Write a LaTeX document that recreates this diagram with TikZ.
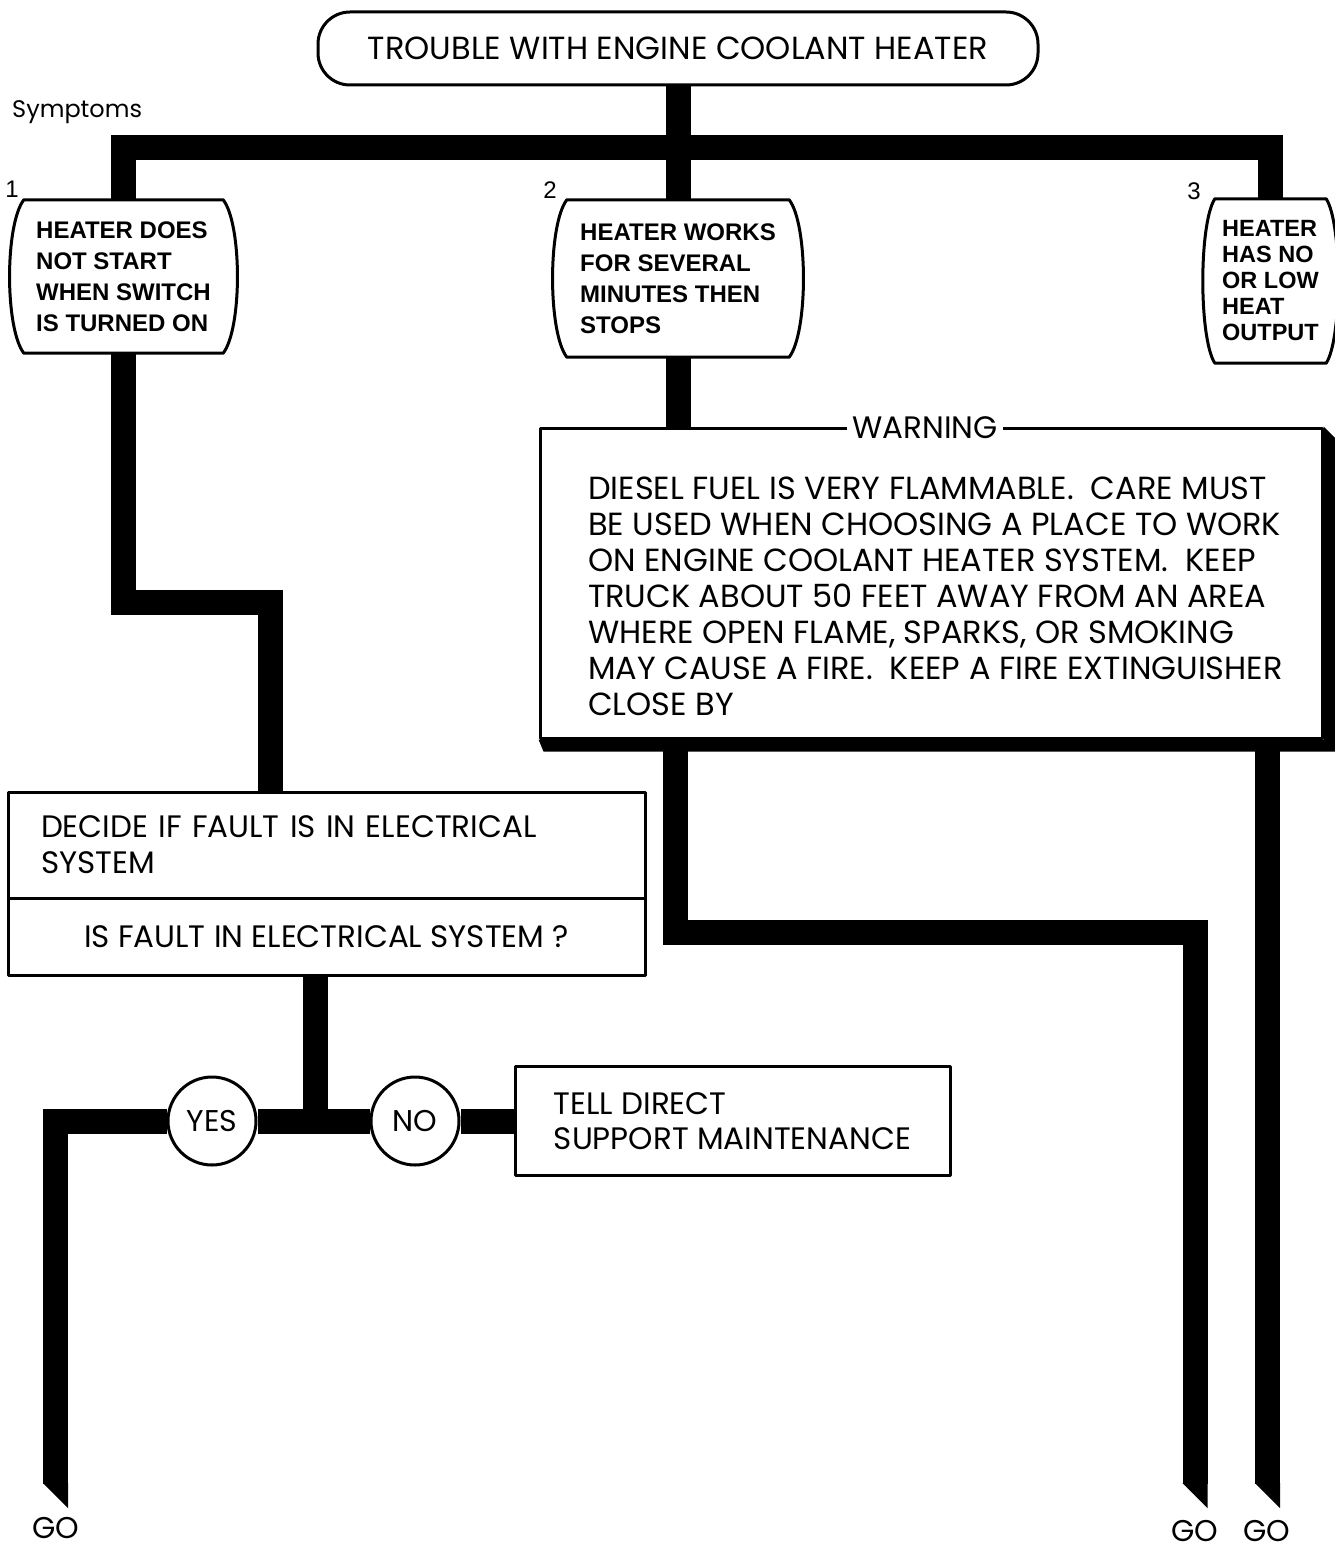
\documentclass[tikz,border=0pt]{standalone}
\usepackage{fontspec}
\setmainfont{Poppins}
\newfontfamily\helvfont{Liberation Sans}

% symptom box with bulged sides
\newcommand{\symbarrel}[2]{%
  \draw[boxline] (#1.north west) -- (#1.north east)
    .. controls +(#2,25) and +(#2,-25) .. (#1.south east)
    -- (#1.south west)
    .. controls +(-#2,-25) and +(-#2,25) .. (#1.north west) -- cycle;}

\begin{document}
\begin{tikzpicture}[x=1pt,y=-1pt,
  flow/.style={line width=25pt},
  boxline/.style={line width=3pt,line join=round},
  plainbox/.style={draw,boxline,inner sep=0pt},
  symbox/.style={inner sep=0pt,align=left,font=\helvfont\bfseries\fontsize{24}{31}\selectfont},
  numlabel/.style={inner sep=0pt,font=\helvfont\fontsize{24}{28}\selectfont},
  boxtext/.style={font=\fontsize{31}{36}\selectfont},
  answer/.style={circle,draw,boxline,fill=white,minimum size=88pt,inner sep=0pt,font=\fontsize{30}{32}\selectfont},
  golabel/.style={inner sep=0pt,font=\fontsize{30}{32}\selectfont}]
  \useasboundingbox (0,0) rectangle (1334,1549);

  \node[plainbox,rounded corners=32pt,minimum width=720pt,minimum height=73pt,font=\fontsize{32}{40}\selectfont] (title) at (678,48.5) {TROUBLE WITH ENGINE COOLANT HEATER};
  \node[anchor=base west,inner sep=0pt,font=\fontsize{24}{28}\selectfont] (symptoms) at (12,118) {Symptoms};

  \node[symbox,minimum width=199pt,minimum height=153pt] (s1) at (123.5,276.5) {HEATER DOES\\NOT START\\WHEN SWITCH\\IS TURNED ON};
  \node[symbox,minimum width=222pt,minimum height=157pt] (s2) at (678,278.5) {HEATER WORKS\\FOR SEVERAL\\MINUTES THEN\\STOPS};
  \node[symbox,minimum width=111pt,minimum height=164pt,font=\helvfont\bfseries\fontsize{23.5}{26}\selectfont] (s3) at (1270.5,281) {HEATER\\HAS NO\\OR LOW\\HEAT\\OUTPUT};
  \symbarrel{s1}{19}
  \symbarrel{s2}{19}
  \symbarrel{s3}{16}
  \node[numlabel,anchor=base] (n1) at (12,197) {1};
  \node[numlabel,anchor=base] (n2) at (550,198) {2};
  \node[numlabel,anchor=base] (n3) at (1194,200) {3};

  \node[plainbox,fill=white,minimum width=782pt,minimum height=310pt] (warn) at (931,583) {};
  \fill (warn.south west) -- ++(5,12) -- ([shift={(12,12)}]warn.south east) -- ([shift={(12,12)}]warn.north east) -- (warn.north east) -- (warn.south east) -- cycle;
  \node[boxtext,fill=white,inner xsep=5pt,inner ysep=1pt] (wlabel) at (925,428) {WARNING};
  \node[anchor=north west,inner sep=0pt,align=left,font=\fontsize{32}{36}\selectfont] (wtext) at (588,477) {DIESEL FUEL IS VERY FLAMMABLE.\ \ CARE MUST\\BE USED WHEN CHOOSING A PLACE TO WORK\\ON ENGINE COOLANT HEATER SYSTEM.\ \ KEEP\\TRUCK ABOUT 50 FEET AWAY FROM AN AREA\\WHERE OPEN FLAME, SPARKS, OR SMOKING\\MAY CAUSE A FIRE.\ \ KEEP A FIRE EXTINGUISHER\\CLOSE BY};

  \node[plainbox,boxtext,minimum width=637pt,minimum height=106pt,text width=571pt,align=left] (dec) at (326.5,845) {DECIDE IF FAULT IS IN ELECTRICAL\\SYSTEM};
  \node[plainbox,boxtext,minimum width=637pt,minimum height=77pt] (ques) at (326.5,936.5) {IS FAULT IN ELECTRICAL SYSTEM ?};

  \node[answer] (yes) at (212,1121) {YES};
  \node[answer] (no) at (415,1121) {NO};
  \node[plainbox,minimum width=435pt,minimum height=109pt,align=left,font=\fontsize{31}{35}\selectfont] (tell) at (732.5,1121) {TELL DIRECT\\SUPPORT MAINTENANCE};

  \node[golabel] (go1) at (56,1528) {GO};
  \node[golabel] (go2) at (1195,1531) {GO};
  \node[golabel] (go3) at (1266.5,1531) {GO};

  \coordinate (bar) at (678,148);
  \coordinate (jog) at (270,602.5);
  \coordinate (qj) at (315.5,1121);
  \coordinate (bj) at (675,932.5);
  \coordinate (endA) at (55.5,1484);
  \coordinate (endB) at (1195,1484);
  \coordinate (endC) at (1267.5,1484);

  \draw[flow] (title.south) -- (s2.north);
  \draw[flow] (s1.north) |- (bar) -| (s3.north);
  \draw[flow] (s1.south) |- (jog) -- (jog |- dec.north);
  \draw[flow] (s2.south) -- (warn.north -| s2.south);
  \draw[flow] (warn.south -| bj) -- (bj) -| (endB);
  \draw[flow] (warn.south -| endC) -- (endC);
  \draw[flow] (ques.south -| qj) -- (qj);
  \draw[flow] (tell.west) -- (no.east);
  \draw[flow] (no.west) -- (yes.east);
  \draw[flow] (yes.west) -| (endA);

  \fill (endA) ++(-12.5,-1) -- ++(25,0) -- ++(0,25) -- cycle;
  \fill (endB) ++(-12.5,-1) -- ++(25,0) -- ++(0,25) -- cycle;
  \fill (endC) ++(-12.5,-1) -- ++(25,0) -- ++(0,25) -- cycle;
\end{tikzpicture}
\end{document}
